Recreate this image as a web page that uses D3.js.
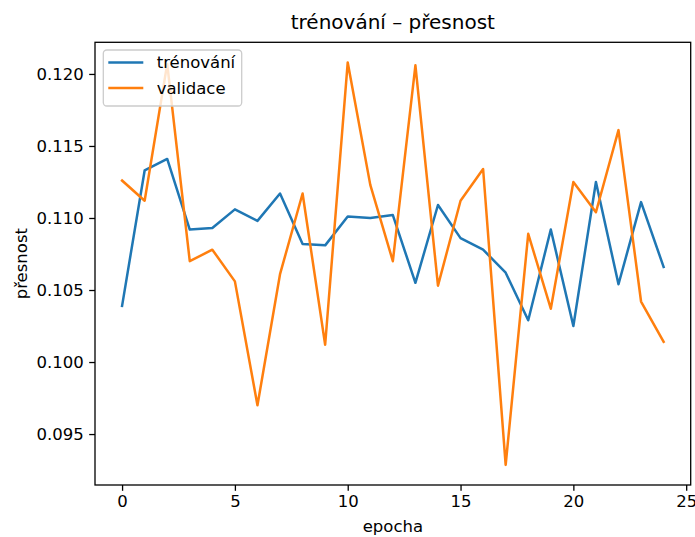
<!DOCTYPE html>
<html>
<head>
<meta charset="utf-8">
<script src="https://cdn.jsdelivr.net/npm/d3@7"></script>
<style>
  body { margin: 0; background: #fff; }
  svg text { font-family: "DejaVu Sans", sans-serif; fill: #000; }
</style>
</head>
<body>
<div id="chart"></div>
<script>
// epochs and accuracy values
const epochs = d3.range(0, 25);
const training = [0.1039, 0.1133, 0.1141, 0.1092, 0.1093, 0.1106, 0.1098, 0.1117, 0.1082, 0.1081,
  0.1101, 0.1100, 0.1102, 0.1055, 0.1109, 0.1086, 0.1078, 0.1062, 0.1029, 0.1092,
  0.1025, 0.1125, 0.1054, 0.1111, 0.1066];
const validation = [0.1126, 0.1112, 0.1207, 0.1070, 0.1078, 0.1056, 0.0970, 0.1061, 0.1117, 0.1012,
  0.1208, 0.1123, 0.1070, 0.1206, 0.1053, 0.1112, 0.1134, 0.09286, 0.1089, 0.1037,
  0.1125, 0.1104, 0.1161, 0.1042, 0.1014];
const xTicks = [0, 5, 10, 15, 20, 25];
const yTicks = [0.095, 0.100, 0.105, 0.110, 0.115, 0.120];
const seriesNames = ["trénování", "validace"];
const colors = ["#1f77b4", "#ff7f0e"];

const width = 695, height = 537;
const plotL = 95, plotR = 690.7, plotT = 42.3, plotB = 485;

const svg = d3.select("#chart").append("svg")
  .attr("width", width)
  .attr("height", height);

// matplotlib style 5% margins
const xExt = d3.extent(epochs);
const xPad = (xExt[1] - xExt[0]) * 0.05;
const allY = training.concat(validation);
const yExt = d3.extent(allY);
const yPad = (yExt[1] - yExt[0]) * 0.05;

const x = d3.scaleLinear().domain([xExt[0] - xPad, xExt[1] + xPad]).range([plotL, plotR]);
const y = d3.scaleLinear().domain([yExt[0] - yPad, yExt[1] + yPad]).range([plotB, plotT]);

const line = d3.line()
  .x((d, i) => x(epochs[i]))
  .y(d => y(d));

// lines
[training, validation].forEach((s, k) => {
  svg.append("path")
    .datum(s)
    .attr("fill", "none")
    .attr("stroke", colors[k])
    .attr("stroke-width", 2.5)
    .attr("stroke-linejoin", "round")
    .attr("stroke-linecap", "square")
    .attr("d", line);
});

// axes
const xAxis = svg.append("g")
  .attr("transform", `translate(0,${plotB})`)
  .call(d3.axisBottom(x).tickValues(xTicks).tickSize(5.8).tickPadding(4.5).tickFormat(d3.format("d")));
const yAxis = svg.append("g")
  .attr("transform", `translate(${plotL},0)`)
  .call(d3.axisLeft(y).tickValues(yTicks).tickSize(5.8).tickPadding(5.5).tickFormat(d3.format(".3f")));

[xAxis, yAxis].forEach(a => {
  a.select(".domain").remove();
  a.selectAll(".tick line").attr("stroke", "#000").attr("stroke-width", 1.3);
  a.selectAll(".tick text").style("font-size", "16.5px").attr("fill", "#000");
});

// frame
svg.append("rect")
  .attr("x", plotL).attr("y", plotT)
  .attr("width", plotR - plotL).attr("height", plotB - plotT)
  .attr("fill", "none")
  .attr("stroke", "#000")
  .attr("stroke-width", 1.3);

// title and labels
svg.append("text")
  .attr("x", (plotL + plotR) / 2).attr("y", 29)
  .attr("text-anchor", "middle")
  .style("font-size", "20px")
  .text("trénování – přesnost");

svg.append("text")
  .attr("x", (plotL + plotR) / 2).attr("y", 532)
  .attr("text-anchor", "middle")
  .style("font-size", "16.5px")
  .text("epocha");

svg.append("text")
  .attr("transform", `translate(27,${(plotT + plotB) / 2}) rotate(-90)`)
  .attr("text-anchor", "middle")
  .style("font-size", "16.5px")
  .text("přesnost");

// legend
const legend = svg.append("g");
legend.append("rect")
  .attr("x", 103.3).attr("y", 50)
  .attr("width", 138.4).attr("height", 56)
  .attr("rx", 3.5)
  .attr("fill", "#fff").attr("fill-opacity", 0.8)
  .attr("stroke", "#cccccc").attr("stroke-width", 1.3);

seriesNames.forEach((name, k) => {
  const ly = 62.5 + k * 25.4;
  legend.append("line")
    .attr("x1", 108.3).attr("x2", 143.3)
    .attr("y1", ly).attr("y2", ly)
    .attr("stroke", colors[k]).attr("stroke-width", 2.5);
  legend.append("text")
    .attr("x", 156.7).attr("y", ly)
    .attr("dy", "0.36em")
    .style("font-size", "16.5px")
    .text(name);
});
</script>
</body>
</html>
